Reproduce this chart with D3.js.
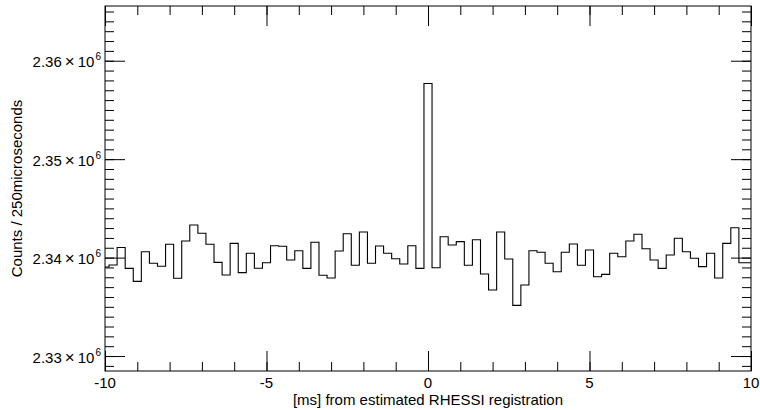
<!DOCTYPE html>
<html lang="en">
<head>
<meta charset="UTF-8">
<title>Counts per 250 microseconds</title>
<script src="https://cdn.jsdelivr.net/npm/d3@7"></script>
<style>
  body { margin: 0; background: #fff; }
  text { font-family: "Liberation Sans", Arial, sans-serif; fill: #000; }
</style>
</head>
<body>
<svg></svg>
<script>
const width = 760, height = 410;
const margin = { top: 6, right: 9, bottom: 39, left: 105 };

// histogram bins: centres start at -10 ms, 0.25 ms wide
const binStart = -10;
const binWidth = 0.25;
const counts = [
  2339050, 2339250, 2341030, 2338910, 2337590, 2340600, 2339420, 2339120,
  2341350, 2337900, 2341690, 2343310, 2342470, 2341350, 2339520, 2338230,
  2341450, 2338470, 2340440, 2338920, 2339480, 2341210, 2341150, 2339760,
  2340700, 2338910, 2341560, 2338200, 2337930, 2340670, 2342430, 2339220,
  2342600, 2339420, 2341180, 2340440, 2339890, 2339350, 2341210, 2338910,
  2357690, 2338970, 2342120, 2341280, 2341620, 2339220, 2341820, 2338330,
  2336710, 2342600, 2339860, 2335150, 2337220, 2340700, 2340540, 2339420,
  2338570, 2340540, 2341380, 2339220, 2340770, 2338060, 2338300, 2340440,
  2340090, 2341690, 2342370, 2340900, 2339760, 2338910, 2340260, 2341960,
  2340600, 2339930, 2339080, 2340440, 2337930, 2341450, 2343040, 2339480
];

const xDomain = [-10, 10];
const xTicks = [-10, -5, 0, 5, 10];
const yDomain = [2328480, 2365560];
const yTicks = [2330000, 2340000, 2350000, 2360000];

const xLabel = '[ms] from estimated RHESSI registration';
const yLabel = 'Counts / 250microseconds';

const x0 = margin.left, x1 = width - margin.right;
const y0 = height - margin.bottom, y1 = margin.top;

const svg = d3.select('svg')
    .attr('width', width)
    .attr('height', height);

const x = d3.scaleLinear().domain(xDomain).range([x0, x1]);
const y = d3.scaleLinear().domain(yDomain).range([y0, y1]);

// clip the histogram to the plot box
svg.append('clipPath').attr('id', 'plot')
    .append('rect')
    .attr('x', x0).attr('y', y1)
    .attr('width', x1 - x0).attr('height', y0 - y1);

const points = counts.map((c, i) => [binStart + i * binWidth, c]);
points.push([xDomain[1], counts[counts.length - 1]]);

svg.append('path')
    .datum(points)
    .attr('clip-path', 'url(#plot)')
    .attr('fill', 'none')
    .attr('stroke', '#000')
    .attr('stroke-width', 1.1)
    .attr('d', d3.line().x(d => x(d[0])).y(d => y(d[1])).curve(d3.curveStep));

// ticks on all four sides, pointing inward
const major = 20, minor = 9;
const noDomain = g => g.select('.domain').remove();
const tickStyle = g => g.selectAll('line').attr('stroke', '#000').attr('stroke-width', 1);

const axes = [
    [d3.axisBottom, `translate(0,${y0})`, x, xTicks, x.ticks(20)],
    [d3.axisTop, `translate(0,${y1})`, x, xTicks, x.ticks(20)],
    [d3.axisLeft, `translate(${x0},0)`, y, yTicks, y.ticks(40)],
    [d3.axisRight, `translate(${x1},0)`, y, yTicks, y.ticks(40)]
];
axes.forEach(([axis, tr, scale, big, small]) => {
    svg.append('g').attr('transform', tr)
        .call(axis(scale).tickValues(small).tickSize(-minor).tickFormat(''))
        .call(noDomain).call(tickStyle);
    svg.append('g').attr('transform', tr)
        .call(axis(scale).tickValues(big).tickSize(-major).tickFormat(''))
        .call(noDomain).call(tickStyle);
});

// plot box
svg.append('rect')
    .attr('x', x0).attr('y', y1)
    .attr('width', x1 - x0).attr('height', y0 - y1)
    .attr('fill', 'none')
    .attr('stroke', '#000')
    .attr('stroke-width', 1);

// x tick labels
svg.append('g')
    .selectAll('text')
    .data(xTicks)
    .join('text')
    .attr('x', d => x(d))
    .attr('y', y0 + 17)
    .attr('text-anchor', 'middle')
    .style('font-size', '15px')
    .text(d => String(d));

// y tick labels, e.g. 2.36×10^6
const yText = svg.append('g')
    .selectAll('text')
    .data(yTicks)
    .join('text')
    .attr('x', x0 - 4)
    .attr('y', d => y(d) + 6.5)
    .attr('text-anchor', 'end')
    .style('font-size', '15px');
yText.append('tspan').text(d => (d / 1e6).toFixed(2));
yText.append('tspan').attr('dx', 3).style('font-size', '17px').text('×');
yText.append('tspan').attr('dx', 3).text('10');
yText.append('tspan').attr('dx', 1).attr('dy', -7).style('font-size', '10px').text('6');

// axis titles
svg.append('text')
    .attr('x', (x0 + x1) / 2)
    .attr('y', height - 5)
    .attr('text-anchor', 'middle')
    .style('font-size', '15px')
    .text(xLabel);

svg.append('text')
    .attr('transform', `translate(22,${(y0 + y1) / 2}) rotate(-90)`)
    .attr('text-anchor', 'middle')
    .style('font-size', '15px')
    .text(yLabel);
</script>
</body>
</html>
